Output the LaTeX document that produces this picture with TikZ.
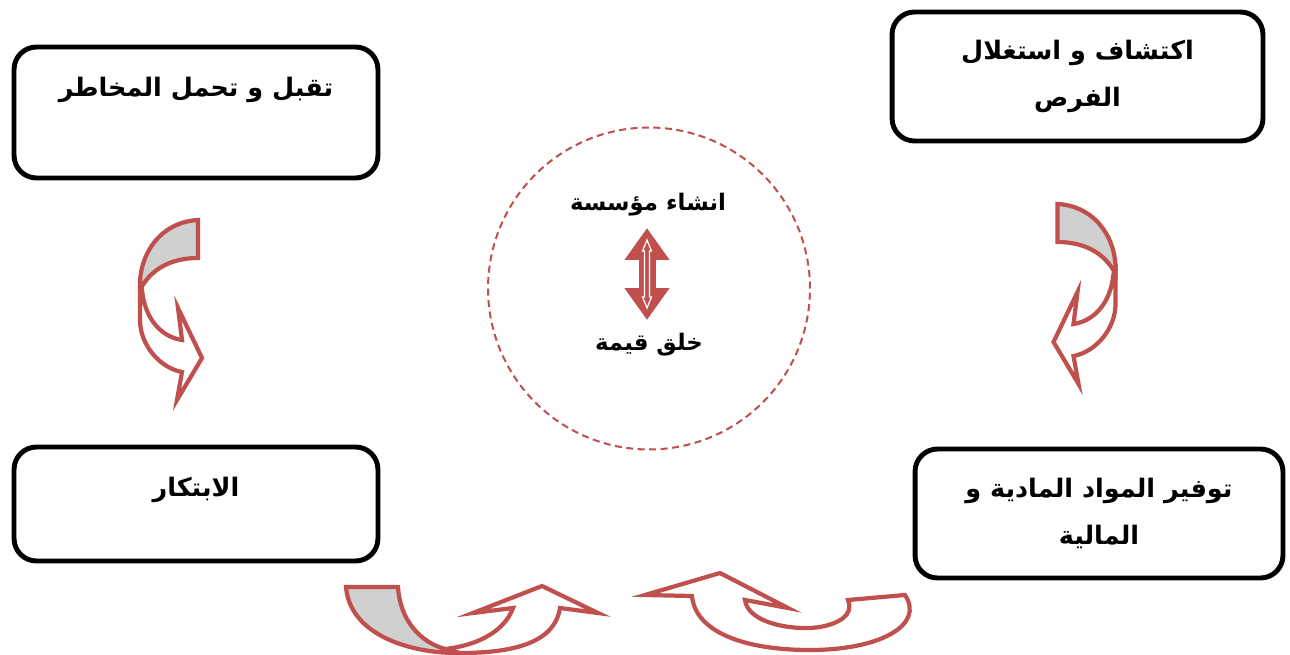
\documentclass[tikz,border=0pt]{standalone}
\usepackage{fontspec}
\newfontfamily\arabicfont[Script=Arabic]{DejaVu Sans}
\TeXXeTstate=1
\usetikzlibrary{arrows.meta,positioning}
\definecolor{accred}{RGB}{192,80,77}
\definecolor{shade}{RGB}{208,208,208}

\begin{document}
\begin{tikzpicture}[
  x=0.02cm, y=-0.02cm,
  box/.style={draw=black, line width=2.8pt, rounded corners=0.45cm, fill=white,
              inner sep=0pt, outer sep=0pt, align=center,
              font=\arabicfont\bfseries\fontsize{14.5}{27}\selectfont},
  lbl/.style={font=\arabicfont\bfseries\fontsize{14.5}{27}\selectfont,
              align=center, inner sep=0pt},
  mid/.style={font=\arabicfont\bfseries\fontsize{13}{16}\selectfont,
              align=center, inner sep=0pt},
  front/.style={draw=accred, fill=white, line width=2.4pt, line join=miter},
  back/.style={draw=accred, fill=shade, line width=2.4pt, line join=miter},
  fat/.style={accred, line width=0.34cm,
              {Triangle[length=0.64cm,width=0.86cm]}-{Triangle[length=0.64cm,width=0.86cm]}},
]

\useasboundingbox (0,0) rectangle (1290,655);

% ---- four boxes ----
\node[box, minimum width=7.28cm, minimum height=2.62cm] (risk) at (196,112.5) {};
\node[lbl] (riskt) at ([yshift=-0.86cm]risk.north) {\beginR تقبل و تحمل المخاطر\endR};

\node[box, minimum width=7.42cm, minimum height=2.58cm] (opp) at (1077.5,76.5)
      {\beginR اكتشاف و استغلال\endR\\\beginR الفرص\endR};

\node[box, minimum width=7.28cm, minimum height=2.28cm] (innov) at (196,504) {};
\node[lbl] (innovt) at ([yshift=-0.86cm]innov.north) {\beginR الابتكار\endR};

\node[box, minimum width=7.36cm, minimum height=2.58cm] (res) at (1099,513.5)
      {\beginR توفير المواد المادية و\endR\\\beginR المالية\endR};

% ---- centre ----
\node[draw=accred, line width=1.15pt, dash pattern=on 0.14cm off 0.09cm,
      circle, minimum size=6.44cm] (ring) at (649,288.5) {};
\node[mid] (found) at (648,205) {\beginR انشاء مؤسسة\endR};
\node[mid] (value) at (649,345) {\beginR خلق قيمة\endR};

\coordinate (up) at (647,228);
\coordinate (dn) at (647,320);
\draw[fat] (up) -- (dn);
\draw[white, line width=0.7pt, fill=accred]
      (647,240) -- (651.5,251) -- (649.5,251) -- (649.5,297) -- (651.5,297)
      -- (647,308) -- (642.5,297) -- (644.5,297) -- (644.5,251) -- (642.5,251) -- cycle;

% ---- curved arrow, left ----
\draw[front] (140,280) -- (140,320) .. controls (140,345) and (160,368) .. (182,372)
      -- (177,400) -- (202,358) -- (178,308) -- (182,340)
      .. controls (162,337) and (145,320) .. (142,290) -- cycle;
\draw[back] (198,220) .. controls (160,222) and (138,255) .. (140,290)
      .. controls (150,270) and (170,258) .. (198,258) -- cycle;

% ---- curved arrow, right ----
\draw[front] (1115.5,264) -- (1115.5,304) .. controls (1115.5,329) and (1095.5,352) .. (1073.5,356)
      -- (1078.5,384) -- (1053.5,342) -- (1077.5,292) -- (1073.5,324)
      .. controls (1093.5,321) and (1110.5,304) .. (1113.5,274) -- cycle;
\draw[back] (1057.5,204) .. controls (1095.5,206) and (1117.5,239) .. (1115.5,274)
      .. controls (1105.5,254) and (1085.5,242) .. (1057.5,242) -- cycle;

% ---- curved arrow, bottom left ----
\draw[front] (445,649) .. controls (480,645) and (505,630) .. (513,608)
      -- (473,613) -- (542,586) -- (598,613) -- (560,608)
      .. controls (555,640) and (520,653) .. (460,653) -- cycle;
\draw[back] (346,587) -- (398,587) .. controls (400,620) and (420,642) .. (445,649)
      -- (457,653) .. controls (410,653) and (350,635) .. (346,587) -- cycle;

% ---- curved arrow, bottom right ----
\draw[front] (905,595) .. controls (925,625) and (880,650) .. (810,650)
      .. controls (740,650) and (695,630) .. (692,596)
      -- (645,595) -- (720,573) -- (788,608) -- (745,600)
      .. controls (748,625) and (800,632) .. (825,626)
      .. controls (848,620) and (852,610) .. (848,600) -- cycle;

\end{tikzpicture}
\end{document}
